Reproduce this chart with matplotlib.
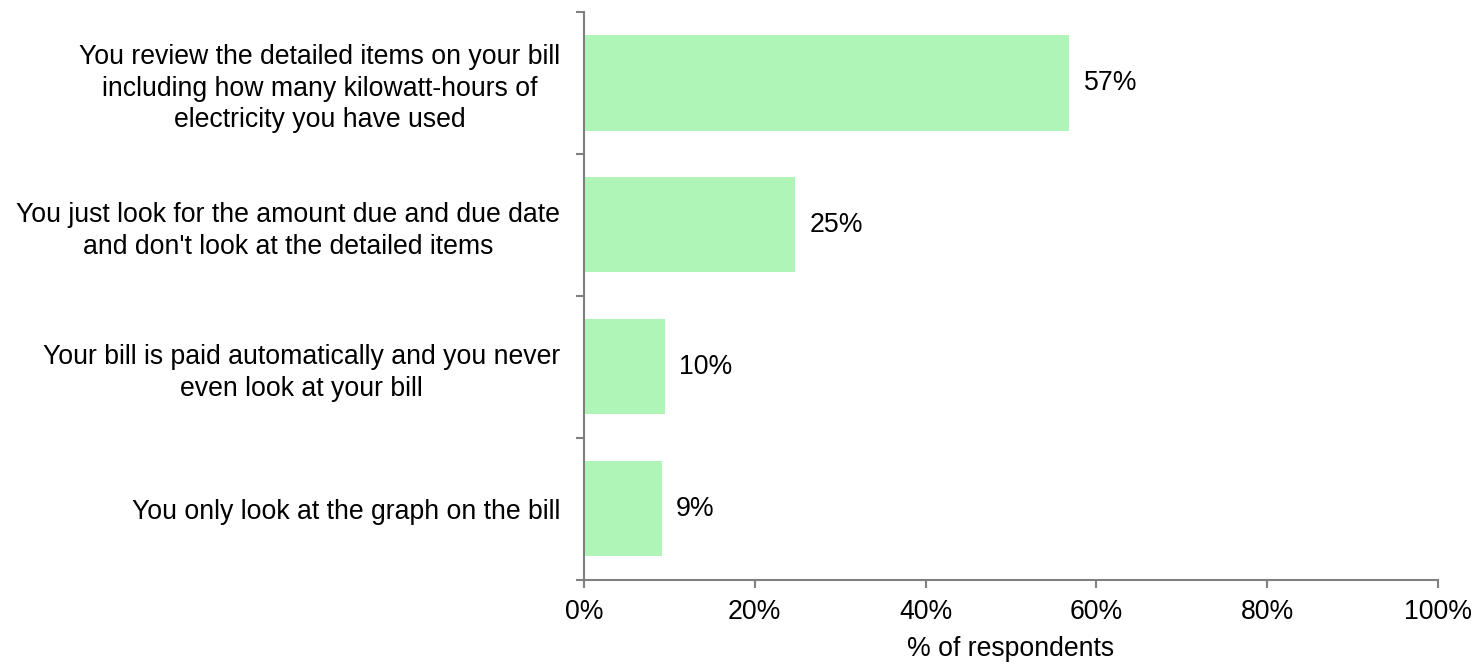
import matplotlib.pyplot as plt
import numpy as np

plt.rcParams['font.family'] = ['Liberation Sans', 'DejaVu Sans']

categories = [
    "You review the detailed items on your bill\nincluding how many kilowatt-hours of\nelectricity you have used",
    "You just look for the amount due and due date\nand don't look at the detailed items",
    "Your bill is paid automatically and you never\neven look at your bill",
    "You only look at the graph on the bill",
]
values = [56.8, 24.7, 9.5, 9.1]
labels = ["57%", "25%", "10%", "9%"]
xticks = [0, 20, 40, 60, 80, 100]

fs = 19.2

fig = plt.figure(figsize=(14.78, 6.65), dpi=100)
ax = fig.add_axes([0.395, 0.128, 0.578, 0.854])

y = np.arange(len(categories))[::-1]
ax.barh(y, values, height=0.67, color='#b0f5b8')

for yi, v, lab in zip(y, values, labels):
    ax.text(v + 1.7, yi, lab, va='center', ha='left', fontsize=fs)

ax.set_xlim(0, 100)
ax.set_ylim(-0.5, len(categories) - 0.5)
ax.set_xticks(xticks)
ax.set_xticklabels([f"{t}%" for t in xticks], fontsize=fs)
ax.set_xlabel("% of respondents", fontsize=fs, labelpad=8)

# category labels without ticks, ticks at boundaries
ax.set_yticks(y)
ax.set_yticklabels(categories, fontsize=fs, ha='right', multialignment='center',
                   linespacing=1.28)
ax.tick_params(axis='y', which='major', length=0, pad=17)
ax.set_yticks(np.arange(len(categories) + 1) - 0.5, minor=True)
ax.tick_params(axis='y', which='minor', length=6, color='#808080', width=1.5)
ax.tick_params(axis='x', length=6, color='#808080', width=1.5, pad=8)

for s in ['top', 'right']:
    ax.spines[s].set_visible(False)
for s in ['left', 'bottom']:
    ax.spines[s].set_color('#808080')
    ax.spines[s].set_linewidth(1.5)

fig.savefig('out.png', dpi=100)
